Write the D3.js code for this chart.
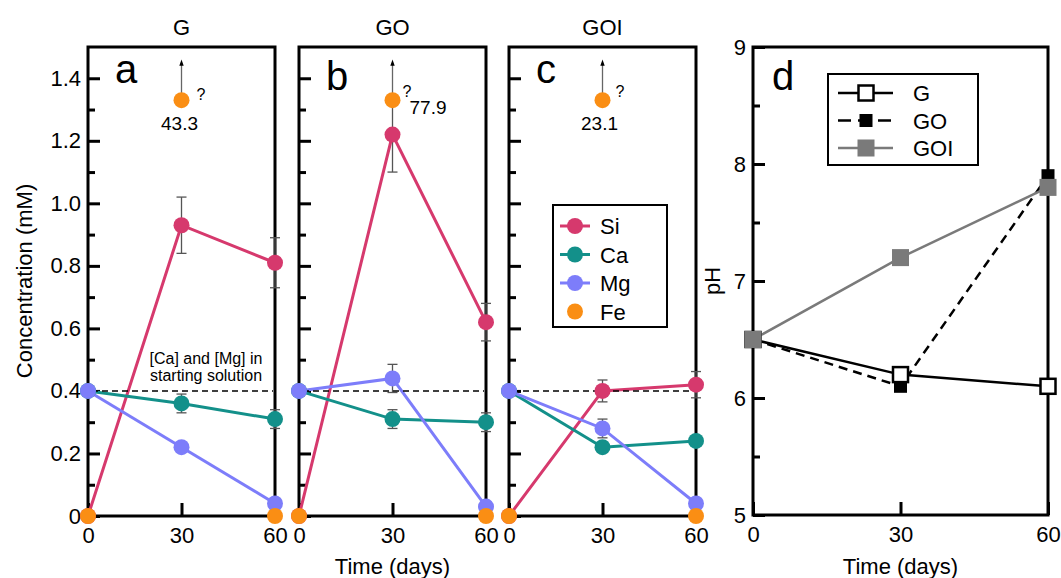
<!DOCTYPE html>
<html><head><meta charset="utf-8">
<script src="https://cdn.jsdelivr.net/npm/d3@7"></script>
<style>
body{margin:0;background:#fff}
svg{display:block}
text{font-family:"Liberation Sans",Arial,Helvetica,sans-serif}
</style>
</head><body>
<svg id="chart" width="1061" height="578"></svg>
<script>
// ---------------- data ----------------
const days = [0, 30, 60];
const panelTitles = ["G", "GO", "GOI"];
const panelLetters = ["a", "b", "c"];
const elements = ["Si", "Ca", "Mg", "Fe"];
const siValues = [[0, 0.93, 0.81], [0, 1.22, 0.62], [0, 0.40, 0.42]];
const siErrors = [[0, 0.09, 0.08], [0, 0.12, 0.06], [0, 0.035, 0.042]];
const caValues = [[0.40, 0.36, 0.31], [0.40, 0.31, 0.30], [0.40, 0.22, 0.24]];
const caErrors = [[0, 0.03, 0.03], [0, 0.03, 0.03], [0, 0.01, 0.01]];
const mgValues = [[0.40, 0.22, 0.04], [0.40, 0.44, 0.03], [0.40, 0.28, 0.04]];
const mgErrors = [[0, 0.015, 0], [0, 0.045, 0], [0, 0.03, 0]];
const feValues = [[0, 1.33, 0], [0, 1.33, 0], [0, 1.33, 0]]; // day 30 is off-scale (arrow)
const feOffscaleDay = 30;
const feOffscaleLabels = ["43.3", "77.9", "23.1"];
const startingConc = 0.4;
const startingNote = ["[Ca] and [Mg] in", "starting solution"];
const concTicks = [0, 0.2, 0.4, 0.6, 0.8, 1.0, 1.2, 1.4];
const concMinorTicks = [0.1, 0.3, 0.5, 0.7, 0.9, 1.1, 1.3];
const dayTicks = [0, 30, 60];

const phSeries = ["G", "GO", "GOI"];
const phG = [6.5, 6.2, 6.1];
const phGO = [6.5, 6.1, 7.9];
const phGOI = [6.5, 7.2, 7.8];
const phTicks = [5, 6, 7, 8, 9];
const phMinorTicks = [5.5, 6.5, 7.5, 8.5];

// ---------------- layout / style ----------------
const FONT = '"Liberation Sans",Arial,Helvetica,sans-serif';
const colors = {Si: "#d6396d", Ca: "#13908a", Mg: "#7d7dfa", Fe: "#fa8e14"};
const concLayout = [
  {x0: 88, x1: 275, letterY: 83, q: [15, 0, "start"], lab: [-2, 30, "middle"]},
  {x0: 299, x1: 486, letterY: 90, q: [10, -3, "start"], lab: [17, 14, "start"]},
  {x0: 509, x1: 696, letterY: 83, q: [13, -3, "start"], lab: [-3, 30, "middle"]}
];
const cTop = 47, cBottom = 516;
const svg = d3.select("#chart");

function styleAxis(sel, fs, sw) {
  sel.select(".domain").remove();
  sel.selectAll(".tick line").attr("stroke", "#000").attr("stroke-width", sw);
  sel.selectAll(".tick text").attr("fill", "#000").attr("font-size", fs).attr("font-family", FONT);
}

const yC = d3.scaleLinear().domain([0, 1.5]).range([cBottom, cTop]);
const seriesList = [
  {name: "Si", values: siValues, errors: siErrors},
  {name: "Ca", values: caValues, errors: caErrors},
  {name: "Mg", values: mgValues, errors: mgErrors}
];

concLayout.forEach((L, i) => {
  const x = d3.scaleLinear().domain([0, 60]).range([L.x0, L.x1]);
  const g = svg.append("g");
  g.append("rect").attr("x", L.x0).attr("y", cTop).attr("width", L.x1 - L.x0)
    .attr("height", cBottom - cTop).attr("fill", "none").attr("stroke", "#000").attr("stroke-width", 3);

  const fmt = d => d === 0 ? "0" : d3.format(".1f")(d);
  g.append("g").attr("transform", `translate(${L.x0},0)`)
    .call(d3.axisLeft(yC).tickValues(concTicks).tickSize(-12).tickPadding(7)
      .tickFormat(i === 0 ? fmt : () => ""))
    .call(s => styleAxis(s, 22, 3));
  g.append("g").attr("transform", `translate(${L.x0},0)`)
    .call(d3.axisLeft(yC).tickValues(concMinorTicks).tickSize(-7).tickFormat(() => ""))
    .call(s => styleAxis(s, 22, 3));
  g.append("g").attr("transform", `translate(0,${cBottom})`)
    .call(d3.axisBottom(x).tickValues(dayTicks).tickSize(-13).tickPadding(11))
    .call(s => styleAxis(s, 22, 3));

  // title and letter
  svg.append("text").attr("x", (L.x0 + L.x1) / 2).attr("y", 35).attr("text-anchor", "middle")
    .attr("font-size", 22).text(panelTitles[i]);
  svg.append("text").attr("x", L.x0 + 27).attr("y", L.letterY).attr("font-size", 40).text(panelLetters[i]);

  // error bars
  seriesList.forEach(s => {
    days.forEach((d, j) => {
      const e = s.errors[i][j];
      if (!e) return;
      const v = s.values[i][j];
      const eg = g.append("g").attr("stroke", "#555").attr("stroke-width", 1.3);
      eg.append("line").attr("x1", x(d)).attr("x2", x(d)).attr("y1", yC(v - e)).attr("y2", yC(v + e));
      [v - e, v + e].forEach(w => eg.append("line").attr("x1", x(d) - 5).attr("x2", x(d) + 5)
        .attr("y1", yC(w)).attr("y2", yC(w)));
    });
  });

  // Fe off-scale arrow
  const jF = days.indexOf(feOffscaleDay);
  const fx = x(feOffscaleDay), fy = yC(feValues[i][jF]);
  g.append("line").attr("x1", fx).attr("x2", fx).attr("y1", fy).attr("y2", yC(1.445))
    .attr("stroke", "#666").attr("stroke-width", 1.3);
  g.append("path").attr("d", `M${fx},${yC(1.46)} L${fx - 2.2},${yC(1.44)} L${fx + 2.2},${yC(1.44)} Z`).attr("fill", "#000");

  // lines
  const line = d3.line().x((d, j) => x(days[j])).y(d => yC(d));
  seriesList.forEach(s => {
    g.append("path").datum(s.values[i]).attr("d", line).attr("fill", "none")
      .attr("stroke", colors[s.name]).attr("stroke-width", 3);
  });

  // starting solution dashed line
  g.append("line").attr("x1", L.x0 + 4).attr("x2", L.x1 - 2).attr("y1", yC(startingConc)).attr("y2", yC(startingConc))
    .attr("stroke", "#000").attr("stroke-width", 1.5).attr("stroke-dasharray", "6,4");

  // dots
  seriesList.forEach(s => {
    g.selectAll(null).data(s.values[i]).enter().append("circle")
      .attr("cx", (d, j) => x(days[j])).attr("cy", d => yC(d)).attr("r", 8).attr("fill", colors[s.name]);
  });
  g.selectAll(null).data(feValues[i]).enter().append("circle")
    .attr("cx", (d, j) => x(days[j])).attr("cy", d => yC(d)).attr("r", 8).attr("fill", colors.Fe);

  // Fe annotations
  g.append("text").attr("x", fx + L.q[0]).attr("y", fy + L.q[1]).attr("text-anchor", L.q[2])
    .attr("font-size", 16).text("?");
  g.append("text").attr("x", fx + L.lab[0]).attr("y", fy + L.lab[1]).attr("text-anchor", L.lab[2])
    .attr("font-size", 19).text(feOffscaleLabels[i]);

  if (i === 0) {
    startingNote.forEach((t, k) => g.append("text").attr("x", 206).attr("y", 364 + k * 17)
      .attr("text-anchor", "middle").attr("font-size", 16).text(t));
  }
});

// element legend (panel c)
const lg = svg.append("g");
lg.append("rect").attr("x", 553).attr("y", 205).attr("width", 114).attr("height", 122)
  .attr("fill", "#fff").attr("stroke", "#000").attr("stroke-width", 2);
elements.forEach((el, k) => {
  const yy = 226 + k * 28.5;
  if (el !== "Fe") lg.append("line").attr("x1", 560).attr("x2", 590).attr("y1", yy).attr("y2", yy)
    .attr("stroke", colors[el]).attr("stroke-width", 3);
  lg.append("circle").attr("cx", 575).attr("cy", yy).attr("r", 8).attr("fill", colors[el]);
  lg.append("text").attr("x", 600).attr("y", yy + 8).attr("font-size", 22).text(el);
});

// axis labels
svg.append("text").attr("transform", "translate(32,281) rotate(-90)").attr("text-anchor", "middle")
  .attr("font-size", 22).text("Concentration (mM)");
svg.append("text").attr("x", 392.5).attr("y", 574).attr("text-anchor", "middle").attr("font-size", 22).text("Time (days)");

// ---------------- pH panel ----------------
const P = {x0: 753, x1: 1048, y0: 47, y1: 515};
const xP = d3.scaleLinear().domain([0, 60]).range([P.x0, P.x1]);
const yP = d3.scaleLinear().domain([5, 9]).range([P.y1, P.y0]);
const pg = svg.append("g");
pg.append("rect").attr("x", P.x0).attr("y", P.y0).attr("width", P.x1 - P.x0).attr("height", P.y1 - P.y0)
  .attr("fill", "none").attr("stroke", "#000").attr("stroke-width", 3);
pg.append("g").attr("transform", `translate(${P.x0},0)`)
  .call(d3.axisLeft(yP).tickValues(phTicks).tickSize(-12).tickPadding(7).tickFormat(d3.format("d")))
  .call(s => styleAxis(s, 22, 3));
pg.append("g").attr("transform", `translate(${P.x0},0)`)
  .call(d3.axisLeft(yP).tickValues(phMinorTicks).tickSize(-7).tickFormat(() => ""))
  .call(s => styleAxis(s, 22, 3));
pg.append("g").attr("transform", `translate(0,${P.y1})`)
  .call(d3.axisBottom(xP).tickValues(dayTicks).tickSize(-13).tickPadding(11))
  .call(s => styleAxis(s, 22, 3));
svg.append("text").attr("x", P.x0 + 19).attr("y", 90).attr("font-size", 40).text("d");
svg.append("text").attr("transform", "translate(720,281) rotate(-90)").attr("text-anchor", "middle")
  .attr("font-size", 22).text("pH");
svg.append("text").attr("x", (P.x0 + P.x1) / 2).attr("y", 574).attr("text-anchor", "middle").attr("font-size", 22).text("Time (days)");

const phStyles = {
  G: {values: phG, stroke: "#000", dash: null, size: 15, fill: "#fff", mstroke: "#000"},
  GO: {values: phGO, stroke: "#000", dash: "9,6", size: 13, fill: "#000", mstroke: "none"},
  GOI: {values: phGOI, stroke: "#7a7a7a", dash: null, size: 17, fill: "#7a7a7a", mstroke: "none"}
};
const drawOrder = ["GO", "G", "GOI"];
const pLine = d3.line().x((d, j) => xP(days[j])).y(d => yP(d));
drawOrder.forEach(n => {
  const st = phStyles[n];
  pg.append("path").datum(st.values).attr("d", pLine).attr("fill", "none").attr("stroke", st.stroke)
    .attr("stroke-width", 2.5).attr("stroke-dasharray", st.dash);
});
drawOrder.forEach(n => {
  const st = phStyles[n];
  pg.selectAll(null).data(st.values).enter().append("rect")
    .attr("x", (d, j) => xP(days[j]) - st.size / 2).attr("y", d => yP(d) - st.size / 2)
    .attr("width", st.size).attr("height", st.size).attr("fill", st.fill)
    .attr("stroke", st.mstroke).attr("stroke-width", 2.5);
});

// pH legend
const pl = svg.append("g");
pl.append("rect").attr("x", 828).attr("y", 74).attr("width", 150).attr("height", 91)
  .attr("fill", "#fff").attr("stroke", "#000").attr("stroke-width", 2);
phSeries.forEach((n, k) => {
  const st = phStyles[n];
  const yy = 93 + k * 27.5;
  pl.append("line").attr("x1", 838).attr("x2", 893).attr("y1", yy).attr("y2", yy)
    .attr("stroke", st.stroke).attr("stroke-width", 2.5).attr("stroke-dasharray", st.dash ? "13,7" : null);
  pl.append("rect").attr("x", 866 - st.size / 2).attr("y", yy - st.size / 2).attr("width", st.size).attr("height", st.size)
    .attr("fill", st.fill).attr("stroke", st.mstroke).attr("stroke-width", 2.5);
  pl.append("text").attr("x", 913).attr("y", yy + 8).attr("font-size", 22).text(n);
});
</script>
</body></html>
